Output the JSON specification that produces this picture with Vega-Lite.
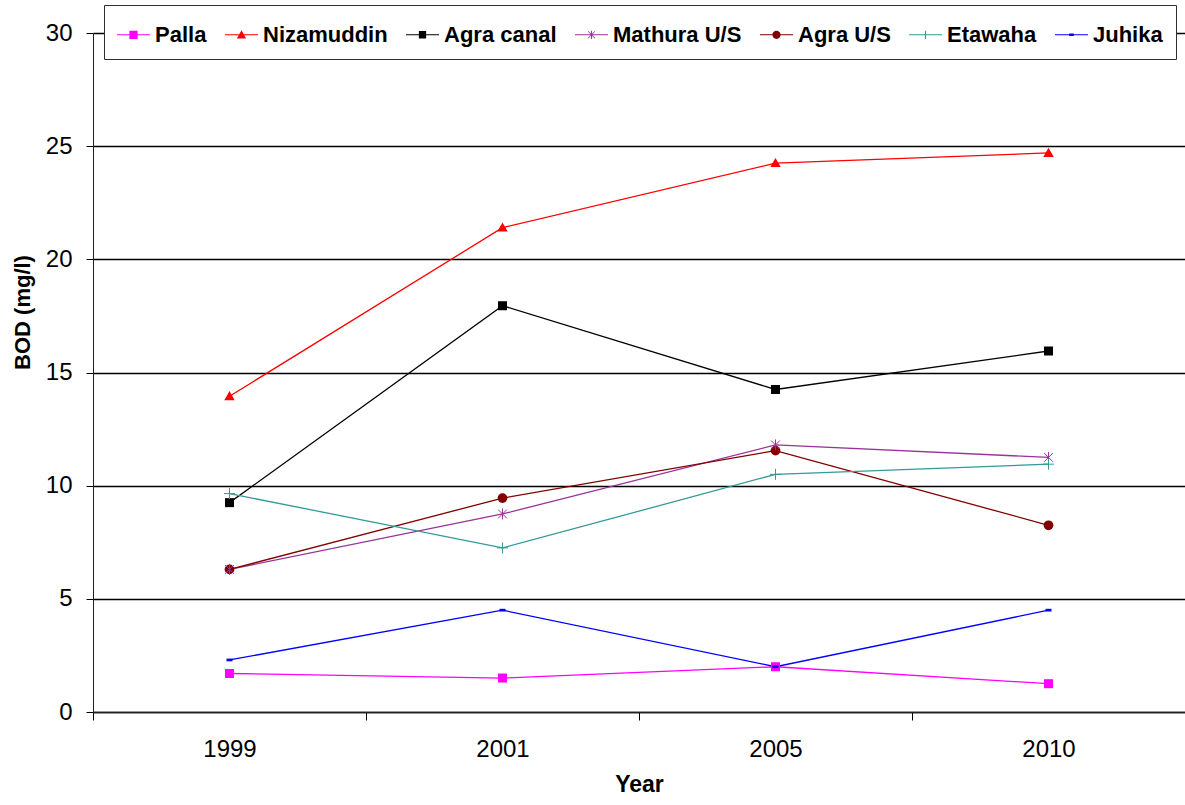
{
  "$schema": "https://vega.github.io/schema/vega-lite/v6.json",
  "width": 1092,
  "height": 679,
  "autosize": {"type": "none"},
  "padding": {"left": 93, "top": 33, "right": 0, "bottom": 93},
  "background": "white",
  "config": {"view": {"stroke": null}, "font": "Liberation Sans"},
  "data": {
    "values": [
      {"series": "Palla", "year": "1999", "bod": 1.7},
      {"series": "Palla", "year": "2001", "bod": 1.5},
      {"series": "Palla", "year": "2005", "bod": 2.0},
      {"series": "Palla", "year": "2010", "bod": 1.25},
      {"series": "Nizamuddin", "year": "1999", "bod": 13.95},
      {"series": "Nizamuddin", "year": "2001", "bod": 21.4},
      {"series": "Nizamuddin", "year": "2005", "bod": 24.25},
      {"series": "Nizamuddin", "year": "2010", "bod": 24.7},
      {"series": "Agra canal", "year": "1999", "bod": 9.25},
      {"series": "Agra canal", "year": "2001", "bod": 17.95},
      {"series": "Agra canal", "year": "2005", "bod": 14.25},
      {"series": "Agra canal", "year": "2010", "bod": 15.95},
      {"series": "Mathura U/S", "year": "1999", "bod": 6.3},
      {"series": "Mathura U/S", "year": "2001", "bod": 8.75},
      {"series": "Mathura U/S", "year": "2005", "bod": 11.8},
      {"series": "Mathura U/S", "year": "2010", "bod": 11.25},
      {"series": "Agra U/S", "year": "1999", "bod": 6.3},
      {"series": "Agra U/S", "year": "2001", "bod": 9.45},
      {"series": "Agra U/S", "year": "2005", "bod": 11.55},
      {"series": "Agra U/S", "year": "2010", "bod": 8.25},
      {"series": "Etawaha", "year": "1999", "bod": 9.65},
      {"series": "Etawaha", "year": "2001", "bod": 7.25},
      {"series": "Etawaha", "year": "2005", "bod": 10.5},
      {"series": "Etawaha", "year": "2010", "bod": 10.95},
      {"series": "Juhika", "year": "1999", "bod": 2.3},
      {"series": "Juhika", "year": "2001", "bod": 4.5},
      {"series": "Juhika", "year": "2005", "bod": 2.0},
      {"series": "Juhika", "year": "2010", "bod": 4.5}
    ]
  },
  "encoding": {
    "x": {
      "field": "year",
      "type": "ordinal",
      "scale": {"type": "band", "paddingInner": 0, "paddingOuter": 0},
      "axis": {
        "title": "Year",
        "titleFont": "Liberation Sans",
        "titleFontSize": 23,
        "titleFontWeight": "bold",
        "titleColor": "#000000",
        "titlePadding": 12,
        "labelAngle": 0,
        "labelFont": "Liberation Sans",
        "labelFontSize": 24,
        "labelColor": "#000000",
        "labelPadding": 17,
        "tickBand": "extent",
        "tickSize": 8,
        "tickColor": "#000000",
        "domainColor": "#202020",
        "domainWidth": 1.5,
        "grid": false
      }
    },
    "y": {
      "field": "bod",
      "type": "quantitative",
      "scale": {"domain": [0, 30], "nice": false, "zero": true},
      "axis": {
        "title": "BOD (mg/l)",
        "titleFont": "Liberation Sans",
        "titleFontSize": 22,
        "titleFontWeight": "bold",
        "titleColor": "#000000",
        "titleX": -71,
        "titleY": 279,
        "titleAngle": -90,
        "titleAlign": "center",
        "titleBaseline": "middle",
        "values": [0, 5, 10, 15, 20, 25, 30],
        "labelFont": "Liberation Sans",
        "labelFontSize": 24,
        "labelColor": "#000000",
        "labelPadding": 14,
        "tickSize": 7,
        "tickColor": "#000000",
        "domainColor": "#202020",
        "domainWidth": 1,
        "grid": true,
        "gridColor": "#000000",
        "gridWidth": 1.3
      }
    },
    "color": {
      "field": "series",
      "type": "nominal",
      "scale": {
        "domain": ["Palla", "Nizamuddin", "Agra canal", "Mathura U/S", "Agra U/S", "Etawaha", "Juhika"],
        "range": ["#FF00FF", "#FF0000", "#000000", "#993399", "#800000", "#339999", "#0000FF"]
      },
      "legend": {
        "orient": "none",
        "legendX": 11,
        "legendY": -28,
        "direction": "horizontal",
        "title": null,
        "labelFont": "Liberation Sans",
        "labelFontSize": 22,
        "labelFontWeight": "bold",
        "labelColor": "#000000",
        "labelOffset": 5,
        "labelLimit": 300,
        "symbolSize": 1089,
        "symbolStrokeWidth": 0,
        "columnPadding": 18,
        "padding": 13,
        "strokeColor": "#303030",
        "fillColor": "#FFFFFF",
        "zindex": 2
      }
    }
  },
  "layer": [
    {"mark": {"type": "line", "strokeWidth": 1.3}},
    {
      "transform": [{"filter": {"field": "series", "oneOf": ["Palla", "Agra canal"]}}],
      "mark": {"type": "point", "shape": "square", "filled": true, "size": 81, "opacity": 1}
    },
    {
      "transform": [{"filter": {"field": "series", "equal": "Nizamuddin"}}],
      "mark": {"type": "point", "shape": "M0,-1L1,0.75H-1Z", "filled": true, "size": 110, "opacity": 1}
    },
    {
      "transform": [{"filter": {"field": "series", "equal": "Agra U/S"}}],
      "mark": {"type": "point", "shape": "circle", "filled": true, "size": 95, "opacity": 1}
    },
    {
      "transform": [{"filter": {"field": "series", "equal": "Mathura U/S"}}],
      "mark": {"type": "point", "shape": "M0,-1V1M-0.8,-0.8L0.8,0.8M0.8,-0.8L-0.8,0.8", "filled": false, "strokeWidth": 1, "size": 121, "opacity": 1}
    },
    {
      "transform": [{"filter": {"field": "series", "equal": "Etawaha"}}],
      "mark": {"type": "point", "shape": "M-1,0H1M0,-1V1", "filled": false, "strokeWidth": 1, "size": 121, "opacity": 1}
    },
    {
      "transform": [{"filter": {"field": "series", "equal": "Juhika"}}],
      "mark": {"type": "point", "shape": "M-1,-0.45H1V0.45H-1Z", "filled": true, "size": 36, "opacity": 1}
    },
    {
      "mark": {"type": "point", "filled": true, "size": 1, "opacity": 1},
      "encoding": {
        "shape": {
          "field": "series",
          "type": "nominal",
          "scale": {
            "domain": ["Palla", "Nizamuddin", "Agra canal", "Mathura U/S", "Agra U/S", "Etawaha", "Juhika"],
            "range": [
              "M-1,-0.035H1V0.035H-1Z M-0.25,-0.25H0.25V0.25H-0.25Z",
              "M-1,-0.035H1V0.035H-1Z M0,-0.28L0.28,0.22H-0.28Z",
              "M-1,-0.035H1V0.035H-1Z M-0.22,-0.22H0.22V0.22H-0.22Z",
              "M-1,-0.035H1V0.035H-1Z M-0.035,-0.25H0.035V0.25H-0.035Z M-0.2,-0.23L0.23,0.2L0.2,0.23L-0.23,-0.2Z M0.2,-0.23L0.23,-0.2L-0.2,0.23L-0.23,0.2Z",
              "M-1,-0.035H1V0.035H-1Z M0.25,0A0.25,0.25 0 1,1 -0.25,0A0.25,0.25 0 1,1 0.25,0Z",
              "M-1,-0.035H1V0.035H-1Z M-0.035,-0.25H0.035V0.25H-0.035Z",
              "M-1,-0.035H1V0.035H-1Z M-0.14,-0.08H0.14V0.08H-0.14Z"
            ]
          },
          "legend": {
            "orient": "none",
            "legendX": 11,
            "legendY": -28,
            "direction": "horizontal",
            "title": null,
            "labelFont": "Liberation Sans",
            "labelFontSize": 22,
            "labelFontWeight": "bold",
            "labelColor": "#000000",
            "labelOffset": 5,
            "labelLimit": 300,
            "symbolSize": 1089,
            "symbolStrokeWidth": 0,
            "columnPadding": 18,
            "padding": 13,
            "strokeColor": "#303030",
            "fillColor": "#FFFFFF",
            "zindex": 2
          }
        }
      }
    }
  ]
}
